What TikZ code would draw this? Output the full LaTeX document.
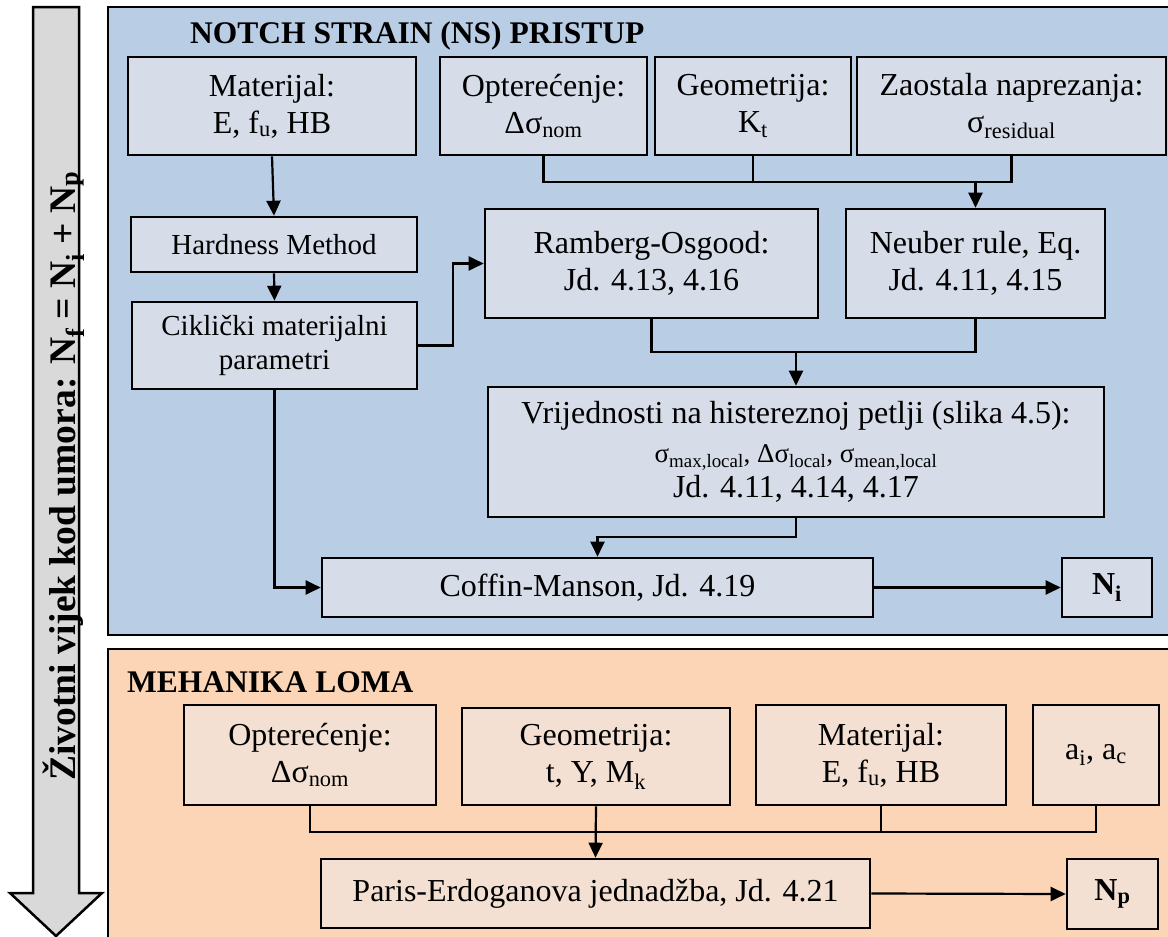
\documentclass[tikz,border=0pt]{standalone}
\usepackage{fontspec}
\setmainfont{Liberation Serif}
\usetikzlibrary{arrows.meta}
\definecolor{bluepanel}{HTML}{B9CDE5}
\definecolor{bluebox}{HTML}{D6DCE8}
\definecolor{orpanel}{HTML}{FBD5B5}
\definecolor{orbox}{HTML}{F3E0D3}
\definecolor{arrowgray}{HTML}{D9D9D9}
\newcommand\fsA{\fontsize{32}{37}\selectfont}
\newcommand\fsB{\fontsize{29}{34}\selectfont}
\newcommand\fsS{\fontsize{27}{30}\selectfont}
\tikzset{
  box/.style={draw=black, line width=2.6pt, inner sep=0pt, align=center, font=\fsA},
  bbox/.style={box, fill=bluebox},
  obox/.style={box, fill=orbox},
  conn/.style={line width=2.2pt},
  arr/.style={conn, -{Triangle[length=15pt,width=14pt]}},
  panel/.style={draw=black, line width=2pt},
  ttl/.style={anchor=base west, inner sep=0pt, font=\fontsize{31.5}{36}\selectfont\bfseries},
}
\begin{document}
\begin{tikzpicture}[x=1pt,y=-1pt]
\useasboundingbox (0,0) rectangle (1168,937);
\clip (0,0) rectangle (1168,937);

% panels
\draw[panel, fill=bluepanel] (108,7) rectangle (1185,635);
\draw[panel, fill=orpanel] (108,649) rectangle (1185,960);

% left arrow
\draw[line width=2.5pt, fill=arrowgray, line join=miter]
  (33,7) -- (79,7) -- (79,893) -- (102,893) -- (56,936) -- (10,893) -- (33,893) -- cycle;
\node[rotate=90, anchor=base, inner sep=0pt, font=\fontsize{37.5}{40}\selectfont\bfseries] (life) at (75,476)
  {Životni vijek kod umora: N\textsubscript{f} = N\textsubscript{i} + N\textsubscript{p}};

% titles
\node[ttl] (t1) at (190,43) {NOTCH STRAIN (NS) PRISTUP};
\node[ttl] (t2) at (127,692) {MEHANIKA LOMA};

% top row
\node[bbox, minimum width=288, minimum height=98] (mat) at (272,106) {Materijal:\\E, f\textsubscript{u}, HB};
\node[bbox, minimum width=207, minimum height=98] (opt) at (543.5,106) {Opterećenje:\\Δσ\textsubscript{nom}};
\node[bbox, minimum width=196, minimum height=98] (geo) at (753,106) {Geometrija:\\K\textsubscript{t}};
\node[bbox, minimum width=309, minimum height=98] (zao) at (1011.5,106) {Zaostala naprezanja:\\σ\textsubscript{residual}};

% middle
\node[bbox, font=\fsB, minimum width=286, minimum height=55] (hard) at (274,244.5) {Hardness Method};
\node[bbox, font=\fsB, minimum width=285, minimum height=87] (cik) at (274.5,345.5) {Ciklički materijalni\\parametri};
\node[bbox, minimum width=333, minimum height=109] (ram) at (651.5,263.5) {Ramberg-Osgood:\\Jd. 4.13, 4.16};
\node[bbox, minimum width=259, minimum height=109] (neu) at (975.5,263.5) {Neuber rule, Eq.\\Jd. 4.11, 4.15};
\node[bbox, minimum width=616, minimum height=130] (vri) at (796,452)
  {Vrijednosti na histereznoj petlji (slika 4.5):\\[2pt]
   {\fsS σ\textsubscript{max,local}, Δσ\textsubscript{local}, σ\textsubscript{mean,local}}\\[-2pt]
   Jd. 4.11, 4.14, 4.17};
\node[bbox, minimum width=551, minimum height=59] (cof) at (597.5,587.5) {Coffin-Manson, Jd. 4.19};
\node[bbox, minimum width=90, minimum height=59, font=\fsA\bfseries] (ni) at (1107,587.5) {N\textsubscript{i}};

% bottom
\node[obox, minimum width=252, minimum height=100] (bopt) at (310,755) {Opterećenje:\\Δσ\textsubscript{nom}};
\node[obox, minimum width=268, minimum height=97] (bgeo) at (596,756.5) {Geometrija:\\t, Y, M\textsubscript{k}};
\node[obox, minimum width=250, minimum height=100] (bmat) at (881,755) {Materijal:\\E, f\textsubscript{u}, HB};
\node[obox, minimum width=126, minimum height=100] (ba) at (1096,755) {a\textsubscript{i}, a\textsubscript{c}};
\node[obox, minimum width=549, minimum height=69] (par) at (595.5,893.5) {Paris-Erdoganova jednadžba, Jd. 4.21};
\node[obox, minimum width=91, minimum height=70, font=\fsA\bfseries] (np) at (1112.5,894) {N\textsubscript{p}};

% junction coordinates
\coordinate (jt) at (0,182);
\coordinate (jm) at (0,352);
\coordinate (jv) at (0,537);
\coordinate (jb) at (0,832);

% top connectors
\draw[conn] (opt.south) |- (zao.south |- jt) -- (zao.south);
\draw[conn] (geo.south) -- (geo.south |- jt);
\draw[arr] (neu.north |- jt) -- (neu.north);
\draw[arr] (mat.south) -- (hard.north);
\draw[arr] (hard.south) -- (cik.north);
\draw[arr] (cik.east) -- ++(35,0) |- (ram.west);
\draw[conn] (ram.south) |- (neu.south |- jm) -- (neu.south);
\draw[arr] (vri.north |- jm) -- (vri.north);
\draw[arr] (vri.south) |- (cof.north |- jv) -- (cof.north);
\draw[arr] (cik.south) |- (cof.west);
\draw[arr] (cof.east) -- (ni.west);

% bottom connectors
\draw[conn] (bopt.south) |- (ba.south |- jb) -- (ba.south);
\draw[conn] (bmat.south) -- (bmat.south |- jb);
\draw[arr] (bgeo.south) -- (par.north);
\draw[arr] (par.east) -- (np.west);
\end{tikzpicture}
\end{document}
